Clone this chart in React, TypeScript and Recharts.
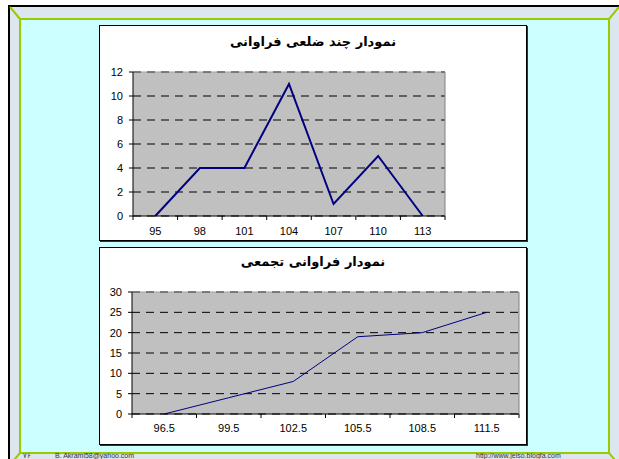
import React from 'react'
import { LineChart, Line, XAxis, YAxis, CartesianGrid, ReferenceLine } from 'recharts'

// frequency polygon
const polyClasses = [95, 98, 101, 104, 107, 110, 113]
const polyFreq = [0, 4, 4, 11, 1, 5, 0]
const polyYTicks = [0, 2, 4, 6, 8, 10, 12]

// cumulative frequency
const cumBounds = [96.5, 99.5, 102.5, 105.5, 108.5, 111.5]
const cumFreq = [0, 4, 8, 19, 20, 25]
const cumYTicks = [0, 5, 10, 15, 20, 25, 30]

const FONT = '"Liberation Sans", Arial, sans-serif'

interface PanelProps {
  title: string
  xs: number[]
  ys: number[]
  yTicks: number[]
  step: number
  left: number
  top: number
  width: number
  height: number
  margin: { top: number; right: number; bottom: number; left: number }
  xAxisHeight: number
  labelDy: number
  titleTop: number
  lineWidth: number
}

const Panel: React.FC<PanelProps> = (p) => {
  const data = p.xs.map((x, i) => ({ x, y: p.ys[i] }))
  const lo = p.xs[0] - p.step / 2
  const hi = p.xs[p.xs.length - 1] + p.step / 2
  const edges = p.xs.map((x) => x - p.step / 2).concat([hi])
  const ticks = [...edges, ...p.xs].sort((a, b) => a - b)
  const yMax = p.yTicks[p.yTicks.length - 1]

  // labels sit at class centres, tick marks at the class edges
  const renderTick = (props: any) => {
    const { x, y, payload } = props
    if (p.xs.includes(payload.value)) {
      return (
        <text x={x} y={y + p.labelDy} textAnchor="middle" fontSize={11} fontFamily={FONT} fill="#000">
          {payload.value}
        </text>
      )
    }
    return <line x1={x} x2={x} y1={y} y2={y + 4} stroke="#000" />
  }

  return (
    <div
      style={{
        position: 'absolute',
        left: p.left,
        top: p.top,
        width: p.width,
        height: p.height,
        background: '#fff',
        border: '1px solid #000',
        boxShadow: '1px 1px 0 #333',
      }}
    >
      <div
        style={{
          position: 'absolute',
          left: 0,
          right: 0,
          top: p.titleTop,
          textAlign: 'center',
          direction: 'rtl',
          fontFamily: '"DejaVu Sans", sans-serif',
          fontWeight: 'bold',
          fontSize: 13,
          lineHeight: '16px',
          color: '#000',
        }}
      >
        {p.title}
      </div>
      <div style={{ position: 'absolute', left: 0, top: 0 }}>
        <LineChart width={p.width} height={p.height} data={data} margin={p.margin}>
          <CartesianGrid vertical={false} stroke="#000" strokeDasharray="8 6" fill="#c0c0c0" fillOpacity={1} />
          <XAxis
            dataKey="x"
            type="number"
            domain={[lo, hi]}
            ticks={ticks}
            interval={0}
            height={p.xAxisHeight}
            tickSize={0}
            tickMargin={0}
            tickLine={false}
            tick={renderTick}
            axisLine={{ stroke: '#000' }}
          />
          <YAxis
            type="number"
            domain={[0, yMax]}
            ticks={p.yTicks}
            interval={0}
            width={25}
            tickSize={4}
            tickMargin={6}
            tickLine={{ stroke: '#000' }}
            axisLine={{ stroke: '#000' }}
            tick={{ fontSize: 11, fontFamily: FONT, fill: '#000' }}
          />
          <ReferenceLine y={yMax} stroke="#a0a0a0" />
          <ReferenceLine y={yMax} stroke="#6e6e6e" strokeDasharray="8 6" />
          <ReferenceLine x={hi} stroke="#808080" />
          <Line
            type="linear"
            dataKey="y"
            stroke="#000080"
            strokeWidth={p.lineWidth}
            dot={false}
            activeDot={false}
            isAnimationActive={false}
          />
        </LineChart>
      </div>
    </div>
  )
}

const Frame: React.FC = () => (
  <svg width={619} height={459} style={{ position: 'absolute', left: 0, top: 0 }}>
    <rect x={0} y={0} width={619} height={459} fill="#fff" />
    <rect x={8} y={5} width={611} height={454} fill="#000" />
    <rect x={10} y={7} width={609} height={452} fill="#dde5ef" />
    <rect x={21} y={20} width={587} height={432} fill="#ccffff" />
    <rect x={20} y={19} width={589} height={434} fill="none" stroke="#99cc00" strokeWidth={2} />
    <line x1={10} y1={7} x2={20} y2={19} stroke="#99cc00" strokeWidth={2} />
    <line x1={619} y1={7} x2={609} y2={19} stroke="#99cc00" strokeWidth={2} />
    <line x1={20} y1={453} x2={14} y2={460} stroke="#99cc00" strokeWidth={2} />
    <line x1={609} y1={453} x2={615} y2={460} stroke="#99cc00" strokeWidth={2} />
  </svg>
)

const footStyle: React.CSSProperties = {
  position: 'absolute',
  top: 452,
  fontFamily: FONT,
  fontSize: 7,
  lineHeight: '7px',
  color: '#333',
  whiteSpace: 'nowrap',
}

export default function App() {
  return (
    <div style={{ position: 'absolute', left: 0, top: 0, width: 619, height: 459, overflow: 'hidden' }}>
      <Frame />
      <Panel
        title="نمودار چند ضلعی فراوانی"
        xs={polyClasses}
        ys={polyFreq}
        yTicks={polyYTicks}
        step={3}
        left={99}
        top={25}
        width={426}
        height={214}
        margin={{ top: 46, right: 81, bottom: 0, left: 8 }}
        xAxisHeight={24}
        labelDy={19}
        titleTop={8}
        lineWidth={2}
      />
      <Panel
        title="نمودار فراوانی تجمعی"
        xs={cumBounds}
        ys={cumFreq}
        yTicks={cumYTicks}
        step={3}
        left={99}
        top={247}
        width={426}
        height={196}
        margin={{ top: 44, right: 7, bottom: 0, left: 7 }}
        xAxisHeight={30}
        labelDy={18}
        titleTop={6}
        lineWidth={1}
      />
      <div style={{ ...footStyle, left: 23 }}>۷۶</div>
      <div style={{ ...footStyle, left: 55 }}>B. Akrami58@yahoo.com</div>
      <div style={{ ...footStyle, left: 476 }}>http://www.jeiso.blogfa.com</div>
    </div>
  )
}
